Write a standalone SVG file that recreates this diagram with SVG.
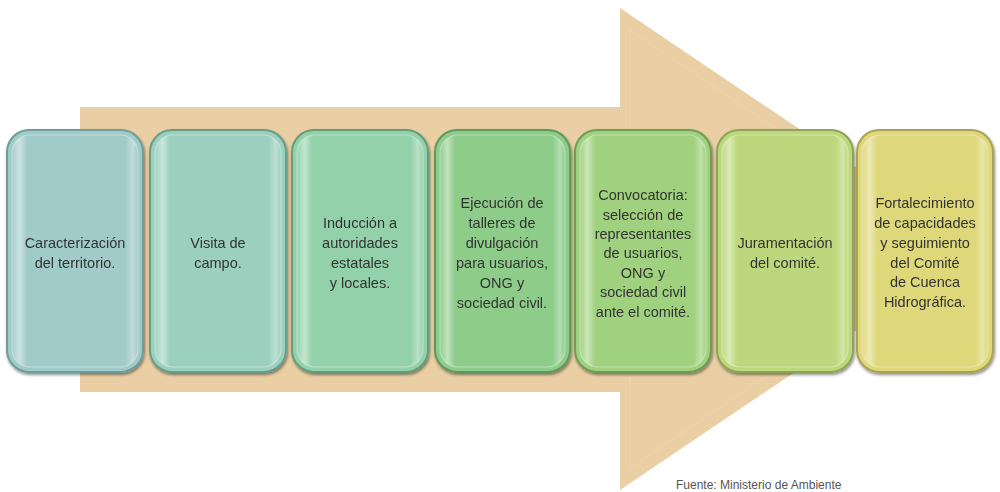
<svg xmlns="http://www.w3.org/2000/svg" width="1000" height="492" viewBox="0 0 1000 492">
  <defs>
    <linearGradient id="gloss" x1="0" y1="0" x2="1" y2="0">
      <stop offset="0" stop-color="#ffffff" stop-opacity="0.05"/>
      <stop offset="0.06" stop-color="#ffffff" stop-opacity="0.45"/>
      <stop offset="0.12" stop-color="#ffffff" stop-opacity="0"/>
      <stop offset="0.9" stop-color="#ffffff" stop-opacity="0"/>
      <stop offset="0.96" stop-color="#ffffff" stop-opacity="0.35"/>
      <stop offset="1" stop-color="#ffffff" stop-opacity="0"/>
    </linearGradient>
    <filter id="shadow" x="-10%" y="-10%" width="120%" height="120%">
      <feGaussianBlur in="SourceAlpha" stdDeviation="1.5"/>
      <feOffset dx="0.5" dy="1.5" result="b"/>
      <feComponentTransfer><feFuncA type="linear" slope="0.45"/></feComponentTransfer>
      <feMerge><feMergeNode/><feMergeNode in="SourceGraphic"/></feMerge>
    </filter>
  </defs>
  <style>
    .box { stroke-width: 2; }
    .gl { fill: url(#gloss); stroke: #ffffff; stroke-opacity: 0.35; stroke-width: 1.2; }
    .t { font-family: "Liberation Sans", Arial, sans-serif; font-size: 14.5px; fill: #333333; text-anchor: middle; }
    .src { font-family: "Liberation Sans", Arial, sans-serif; font-size: 12px; fill: #555555; }
  </style>
  <rect width="1000" height="492" fill="#ffffff"/>

  <g id="arrow">
    <polygon points="80,107 620,107 620,8 977,249 620,490 620,392 80,392" fill="#e9cfa3"/>
    <polygon points="630,30 955,249 630,468" fill="none" stroke="#eed6ae" stroke-width="2" stroke-opacity="0.5"/>
  </g>

  <g id="connectors"></g>

  <g id="n1" filter="url(#shadow)">
    <rect class="box" x="7" y="130" width="136" height="242" rx="22" fill="#a0cbc9" stroke="#6f9c9b"/>
    <rect class="gl" x="12" y="135" width="126" height="232" rx="18"/>
    <text class="t" x="75" y="248">Caracterización</text>
    <text class="t" x="75" y="268">del territorio.</text>
  </g>
  <g id="n2" filter="url(#shadow)">
    <rect class="box" x="150" y="130" width="136" height="242" rx="22" fill="#9bd0be" stroke="#6a9c8a"/>
    <rect class="gl" x="155" y="135" width="126" height="232" rx="18"/>
    <text class="t" x="218" y="248">Visita de</text>
    <text class="t" x="218" y="268">campo.</text>
  </g>
  <g id="n3" filter="url(#shadow)">
    <rect class="box" x="292" y="130" width="136" height="242" rx="22" fill="#93d1ab" stroke="#659c7b"/>
    <rect class="gl" x="297" y="135" width="126" height="232" rx="18"/>
    <text class="t" x="360" y="228">Inducción a</text>
    <text class="t" x="360" y="248">autoridades</text>
    <text class="t" x="360" y="268">estatales</text>
    <text class="t" x="360" y="288">y locales.</text>
  </g>
  <g id="n4" filter="url(#shadow)">
    <rect class="box" x="435" y="130" width="135" height="242" rx="22" fill="#8ecc8a" stroke="#61985e"/>
    <rect class="gl" x="440" y="135" width="125" height="232" rx="18"/>
    <text class="t" x="502" y="208">Ejecución de</text>
    <text class="t" x="502" y="228">talleres de</text>
    <text class="t" x="502" y="248">divulgación</text>
    <text class="t" x="502" y="268">para usuarios,</text>
    <text class="t" x="502" y="288">ONG y</text>
    <text class="t" x="502" y="308">sociedad civil.</text>
  </g>
  <g id="n5" filter="url(#shadow)">
    <rect class="box" x="575" y="130" width="136" height="242" rx="22" fill="#a0d17f" stroke="#6f9c55"/>
    <rect class="gl" x="580" y="135" width="126" height="232" rx="18"/>
    <text class="t" x="643" y="200">Convocatoria:</text>
    <text class="t" x="643" y="220">selección de</text>
    <text class="t" x="643" y="239">representantes</text>
    <text class="t" x="643" y="258">de usuarios,</text>
    <text class="t" x="643" y="278">ONG y</text>
    <text class="t" x="643" y="297">sociedad  civil</text>
    <text class="t" x="643" y="317">ante el comité.</text>
  </g>
  <g id="n6" filter="url(#shadow)">
    <rect class="box" x="717" y="130" width="136" height="242" rx="22" fill="#bdd87c" stroke="#8ea457"/>
    <rect class="gl" x="722" y="135" width="126" height="232" rx="18"/>
    <text class="t" x="785" y="248">Juramentación</text>
    <text class="t" x="785" y="268">del comité.</text>
  </g>
  <g id="n7" filter="url(#shadow)">
    <rect class="box" x="857" y="130" width="136" height="242" rx="22" fill="#ded87a" stroke="#aaa253"/>
    <rect class="gl" x="862" y="135" width="126" height="232" rx="18"/>
    <text class="t" x="925" y="208">Fortalecimiento</text>
    <text class="t" x="925" y="228">de capacidades</text>
    <text class="t" x="925" y="248">y seguimiento</text>
    <text class="t" x="925" y="268">del Comité</text>
    <text class="t" x="925" y="287">de Cuenca</text>
    <text class="t" x="925" y="307">Hidrográfica.</text>
  </g>

  <text class="src" x="676" y="489">Fuente: Ministerio de Ambiente</text>
</svg>
